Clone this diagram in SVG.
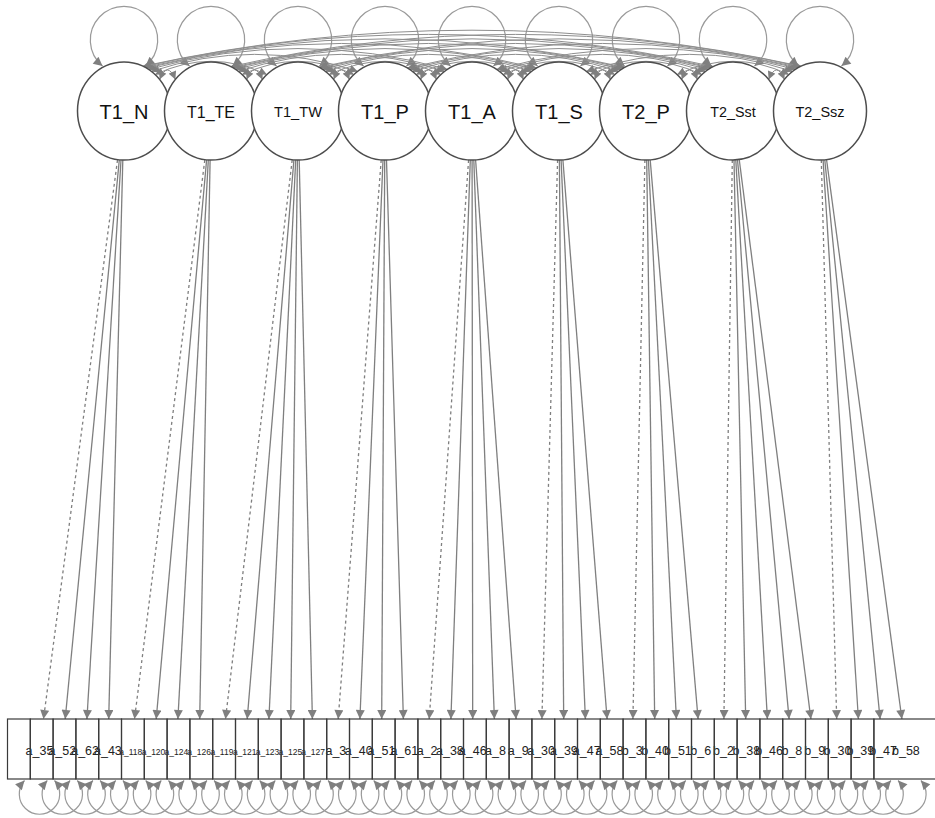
<svg xmlns="http://www.w3.org/2000/svg" width="935" height="818" viewBox="0 0 935 818">
<style>
.lat ellipse{fill:#fff;stroke:#4d4d4d;stroke-width:1.5}
.lat text{font-family:"Liberation Sans",Arial,sans-serif;fill:#111;text-anchor:middle}
.man rect{fill:none;stroke:#3a3a3a;stroke-width:1.2}
.man text{font-family:"Liberation Sans",Arial,sans-serif;fill:#222;text-anchor:middle;font-size:12.5px}
.man text.s{font-size:8.5px}
.e{fill:none;stroke:#7f7f7f;stroke-width:1.3;marker-end:url(#ah)}
.d{stroke-dasharray:3 3}
.lp{fill:none;stroke:#9a9a9a;stroke-width:1.2;marker-start:url(#ah);marker-end:url(#ah)}
.cv{fill:none;stroke:#8e8e8e;stroke-width:1;marker-start:url(#ac);marker-end:url(#ac)}
</style>
<defs>
<marker id="ah" viewBox="0 0 10 10" refX="10" refY="5" markerWidth="10" markerHeight="9" markerUnits="userSpaceOnUse" orient="auto-start-reverse"><path d="M0,0 L10,5 L0,10 z" fill="#7f7f7f"/></marker>
<marker id="ac" viewBox="0 0 10 10" refX="10" refY="5" markerWidth="9" markerHeight="8" markerUnits="userSpaceOnUse" orient="auto-start-reverse"><path d="M0,0 L10,5 L0,10 z" fill="#7f7f7f"/></marker>
</defs>
<rect x="0" y="0" width="935" height="818" fill="#fff"/>
<g id="connectors">
<path class="lp" d="M102.5,66 A33.7,33.7 0 1 1 145.5,66"/>
<path class="lp" d="M189.5,66 A33.7,33.7 0 1 1 232.5,66"/>
<path class="lp" d="M276.5,66 A33.7,33.7 0 1 1 319.5,66"/>
<path class="lp" d="M363.5,66 A33.7,33.7 0 1 1 406.5,66"/>
<path class="lp" d="M450.5,66 A33.7,33.7 0 1 1 493.5,66"/>
<path class="lp" d="M537.5,66 A33.7,33.7 0 1 1 580.5,66"/>
<path class="lp" d="M624.5,66 A33.7,33.7 0 1 1 667.5,66"/>
<path class="lp" d="M711.5,66 A33.7,33.7 0 1 1 754.5,66"/>
<path class="lp" d="M798.5,66 A33.7,33.7 0 1 1 841.5,66"/>
<path class="cv" d="M159.6,79.5 Q167.5,60.5 175.4,79.5"/>
<path class="cv" d="M246.6,79.5 Q254.5,60.5 262.4,79.5"/>
<path class="cv" d="M333.6,79.5 Q341.5,60.5 349.4,79.5"/>
<path class="cv" d="M420.6,79.5 Q428.5,60.5 436.4,79.5"/>
<path class="cv" d="M507.6,79.5 Q515.5,60.5 523.4,79.5"/>
<path class="cv" d="M594.6,79.5 Q602.5,60.5 610.4,79.5"/>
<path class="cv" d="M681.6,79.5 Q689.5,60.5 697.4,79.5"/>
<path class="cv" d="M768.6,79.5 Q776.5,60.5 784.4,79.5"/>
<path class="cv" d="M155.1,74.6 Q211,48 266.9,74.6"/>
<path class="cv" d="M242.1,74.6 Q298,48 353.9,74.6"/>
<path class="cv" d="M329.1,74.6 Q385,48 440.9,74.6"/>
<path class="cv" d="M416.1,74.6 Q472,48 527.9,74.6"/>
<path class="cv" d="M503.1,74.6 Q559,48 614.9,74.6"/>
<path class="cv" d="M590.1,74.6 Q646,48 701.9,74.6"/>
<path class="cv" d="M677.1,74.6 Q733,48 788.9,74.6"/>
<path class="cv" d="M151.3,71.4 Q254.5,37.3 357.7,71.4"/>
<path class="cv" d="M238.3,71.4 Q341.5,37.3 444.7,71.4"/>
<path class="cv" d="M325.3,71.4 Q428.5,37.3 531.7,71.4"/>
<path class="cv" d="M412.3,71.4 Q515.5,37.3 618.7,71.4"/>
<path class="cv" d="M499.3,71.4 Q602.5,37.3 705.7,71.4"/>
<path class="cv" d="M586.3,71.4 Q689.5,37.3 792.7,71.4"/>
<path class="cv" d="M148.6,69.4 Q298,27.7 447.4,69.4"/>
<path class="cv" d="M235.6,69.4 Q385,27.7 534.4,69.4"/>
<path class="cv" d="M322.6,69.4 Q472,27.7 621.4,69.4"/>
<path class="cv" d="M409.6,69.4 Q559,27.7 708.4,69.4"/>
<path class="cv" d="M496.6,69.4 Q646,27.7 795.4,69.4"/>
<path class="cv" d="M146.5,68.1 Q341.5,18.8 536.5,68.1"/>
<path class="cv" d="M233.5,68.1 Q428.5,18.8 623.5,68.1"/>
<path class="cv" d="M320.5,68.1 Q515.5,18.8 710.5,68.1"/>
<path class="cv" d="M407.5,68.1 Q602.5,18.8 797.5,68.1"/>
<path class="cv" d="M145.1,67.3 Q385,10.4 624.9,67.3"/>
<path class="cv" d="M232.1,67.3 Q472,10.4 711.9,67.3"/>
<path class="cv" d="M319.1,67.3 Q559,10.4 798.9,67.3"/>
<path class="cv" d="M143.7,66.6 Q428.5,2.2 713.3,66.6"/>
<path class="cv" d="M230.7,66.6 Q515.5,2.2 800.3,66.6"/>
<path class="cv" d="M142.9,66.2 Q472,-5.8 801.1,66.2"/>
<path class="e d" d="M117.5,160 L43.5,719"/>
<path class="e" d="M119.3,160 L65.2,719"/>
<path class="e" d="M121,160 L86.9,719"/>
<path class="e" d="M122.8,160 L108.7,719"/>
<path class="e d" d="M204.8,160 L134.5,719"/>
<path class="e" d="M206.6,160 L156.2,719"/>
<path class="e" d="M208.3,160 L177.9,719"/>
<path class="e" d="M210.1,160 L199.7,719"/>
<path class="e d" d="M292.2,160 L225.5,719"/>
<path class="e" d="M293.9,160 L247.2,719"/>
<path class="e" d="M295.7,160 L268.9,719"/>
<path class="e" d="M297.4,160 L290.7,719"/>
<path class="e" d="M299.2,160 L312.4,719"/>
<path class="e d" d="M381.2,160 L338.2,719"/>
<path class="e" d="M383,160 L359.9,719"/>
<path class="e" d="M384.7,160 L381.7,719"/>
<path class="e" d="M386.5,160 L403.4,719"/>
<path class="e d" d="M468.6,160 L429.2,719"/>
<path class="e" d="M470.3,160 L450.9,719"/>
<path class="e" d="M472.1,160 L472.7,719"/>
<path class="e" d="M473.8,160 L494.4,719"/>
<path class="e" d="M475.6,160 L516.1,719"/>
<path class="e d" d="M557.6,160 L541.9,719"/>
<path class="e" d="M559.4,160 L563.7,719"/>
<path class="e" d="M561.1,160 L585.4,719"/>
<path class="e" d="M562.9,160 L607.1,719"/>
<path class="e d" d="M644.9,160 L632.9,719"/>
<path class="e" d="M646.7,160 L654.7,719"/>
<path class="e" d="M648.4,160 L676.4,719"/>
<path class="e" d="M650.2,160 L698.1,719"/>
<path class="e d" d="M732.3,160 L723.9,719"/>
<path class="e" d="M734,160 L745.7,719"/>
<path class="e" d="M735.8,160 L767.4,719"/>
<path class="e" d="M737.5,160 L789.1,719"/>
<path class="e" d="M739.3,160 L810.9,719"/>
<path class="e d" d="M821.3,160 L836.7,719"/>
<path class="e" d="M823.1,160 L858.4,719"/>
<path class="e" d="M824.8,160 L880.1,719"/>
<path class="e" d="M826.6,160 L901.9,719"/>
<path class="lp" d="M24.5,780.5 A20.2,20.2 0 1 0 54.5,780.5"/>
<path class="lp" d="M47.3,780.5 A20.2,20.2 0 1 0 77.3,780.5"/>
<path class="lp" d="M70.1,780.5 A20.2,20.2 0 1 0 100.1,780.5"/>
<path class="lp" d="M92.9,780.5 A20.2,20.2 0 1 0 122.9,780.5"/>
<path class="lp" d="M115.7,780.5 A20.2,20.2 0 1 0 145.7,780.5"/>
<path class="lp" d="M138.5,780.5 A20.2,20.2 0 1 0 168.5,780.5"/>
<path class="lp" d="M161.3,780.5 A20.2,20.2 0 1 0 191.3,780.5"/>
<path class="lp" d="M184.1,780.5 A20.2,20.2 0 1 0 214.1,780.5"/>
<path class="lp" d="M206.9,780.5 A20.2,20.2 0 1 0 236.9,780.5"/>
<path class="lp" d="M229.7,780.5 A20.2,20.2 0 1 0 259.7,780.5"/>
<path class="lp" d="M252.5,780.5 A20.2,20.2 0 1 0 282.5,780.5"/>
<path class="lp" d="M275.3,780.5 A20.2,20.2 0 1 0 305.3,780.5"/>
<path class="lp" d="M298.1,780.5 A20.2,20.2 0 1 0 328.1,780.5"/>
<path class="lp" d="M320.9,780.5 A20.2,20.2 0 1 0 350.9,780.5"/>
<path class="lp" d="M343.7,780.5 A20.2,20.2 0 1 0 373.7,780.5"/>
<path class="lp" d="M366.5,780.5 A20.2,20.2 0 1 0 396.5,780.5"/>
<path class="lp" d="M389.3,780.5 A20.2,20.2 0 1 0 419.3,780.5"/>
<path class="lp" d="M412.1,780.5 A20.2,20.2 0 1 0 442.1,780.5"/>
<path class="lp" d="M434.9,780.5 A20.2,20.2 0 1 0 464.9,780.5"/>
<path class="lp" d="M457.7,780.5 A20.2,20.2 0 1 0 487.7,780.5"/>
<path class="lp" d="M480.5,780.5 A20.2,20.2 0 1 0 510.5,780.5"/>
<path class="lp" d="M503.3,780.5 A20.2,20.2 0 1 0 533.3,780.5"/>
<path class="lp" d="M526.1,780.5 A20.2,20.2 0 1 0 556.1,780.5"/>
<path class="lp" d="M548.9,780.5 A20.2,20.2 0 1 0 578.9,780.5"/>
<path class="lp" d="M571.7,780.5 A20.2,20.2 0 1 0 601.7,780.5"/>
<path class="lp" d="M594.5,780.5 A20.2,20.2 0 1 0 624.5,780.5"/>
<path class="lp" d="M617.3,780.5 A20.2,20.2 0 1 0 647.3,780.5"/>
<path class="lp" d="M640.1,780.5 A20.2,20.2 0 1 0 670.1,780.5"/>
<path class="lp" d="M662.9,780.5 A20.2,20.2 0 1 0 692.9,780.5"/>
<path class="lp" d="M685.7,780.5 A20.2,20.2 0 1 0 715.7,780.5"/>
<path class="lp" d="M708.5,780.5 A20.2,20.2 0 1 0 738.5,780.5"/>
<path class="lp" d="M731.3,780.5 A20.2,20.2 0 1 0 761.3,780.5"/>
<path class="lp" d="M754.1,780.5 A20.2,20.2 0 1 0 784.1,780.5"/>
<path class="lp" d="M776.9,780.5 A20.2,20.2 0 1 0 806.9,780.5"/>
<path class="lp" d="M799.7,780.5 A20.2,20.2 0 1 0 829.7,780.5"/>
<path class="lp" d="M822.5,780.5 A20.2,20.2 0 1 0 852.5,780.5"/>
<path class="lp" d="M845.3,780.5 A20.2,20.2 0 1 0 875.3,780.5"/>
<path class="lp" d="M868.1,780.5 A20.2,20.2 0 1 0 898.1,780.5"/>
<path class="lp" d="M890.9,780.5 A20.2,20.2 0 1 0 920.9,780.5"/>
</g>
<g id="latents">
<g id="T1_N" class="lat"><ellipse cx="124" cy="111" rx="46.5" ry="49"/><text x="124" y="118.7" font-size="20">T1_N</text></g>
<g id="T1_TE" class="lat"><ellipse cx="211" cy="111" rx="46.5" ry="49"/><text x="211" y="117.5" font-size="16">T1_TE</text></g>
<g id="T1_TW" class="lat"><ellipse cx="298" cy="111" rx="46.5" ry="49"/><text x="298" y="117" font-size="14.6">T1_TW</text></g>
<g id="T1_P" class="lat"><ellipse cx="385" cy="111" rx="46.5" ry="49"/><text x="385" y="118.7" font-size="20">T1_P</text></g>
<g id="T1_A" class="lat"><ellipse cx="472" cy="111" rx="46.5" ry="49"/><text x="472" y="118.7" font-size="20">T1_A</text></g>
<g id="T1_S" class="lat"><ellipse cx="559" cy="111" rx="46.5" ry="49"/><text x="559" y="118.7" font-size="20">T1_S</text></g>
<g id="T2_P" class="lat"><ellipse cx="646" cy="111" rx="46.5" ry="49"/><text x="646" y="118.7" font-size="20">T2_P</text></g>
<g id="T2_Sst" class="lat"><ellipse cx="733" cy="111" rx="46.5" ry="49"/><text x="733" y="116.8" font-size="14.3">T2_Sst</text></g>
<g id="T2_Ssz" class="lat"><ellipse cx="820" cy="111" rx="46.5" ry="49"/><text x="820" y="116.8" font-size="14.5">T2_Ssz</text></g>
</g>
<g id="manifests">
<g id="m_a_35" class="man"><rect x="7.5" y="719" width="22.8" height="60"/><text x="39.5" y="755">a_35</text></g>
<g id="m_a_52" class="man"><rect x="30.3" y="719" width="22.8" height="60"/><text x="62.3" y="755">a_52</text></g>
<g id="m_a_62" class="man"><rect x="53.1" y="719" width="22.8" height="60"/><text x="85.1" y="755">a_62</text></g>
<g id="m_a_43" class="man"><rect x="75.9" y="719" width="22.8" height="60"/><text x="107.9" y="755">a_43</text></g>
<g id="m_a_118" class="man"><rect x="98.7" y="719" width="22.8" height="60"/><text class="s" x="130.7" y="755">a_118</text></g>
<g id="m_a_120" class="man"><rect x="121.5" y="719" width="22.8" height="60"/><text class="s" x="153.5" y="755">a_120</text></g>
<g id="m_a_124" class="man"><rect x="144.3" y="719" width="22.8" height="60"/><text class="s" x="176.3" y="755">a_124</text></g>
<g id="m_a_126" class="man"><rect x="167.1" y="719" width="22.8" height="60"/><text class="s" x="199.1" y="755">a_126</text></g>
<g id="m_a_119" class="man"><rect x="189.9" y="719" width="22.8" height="60"/><text class="s" x="221.9" y="755">a_119</text></g>
<g id="m_a_121" class="man"><rect x="212.7" y="719" width="22.8" height="60"/><text class="s" x="244.7" y="755">a_121</text></g>
<g id="m_a_123" class="man"><rect x="235.5" y="719" width="22.8" height="60"/><text class="s" x="267.5" y="755">a_123</text></g>
<g id="m_a_125" class="man"><rect x="258.3" y="719" width="22.8" height="60"/><text class="s" x="290.3" y="755">a_125</text></g>
<g id="m_a_127" class="man"><rect x="281.1" y="719" width="22.8" height="60"/><text class="s" x="313.1" y="755">a_127</text></g>
<g id="m_a_3" class="man"><rect x="303.9" y="719" width="22.8" height="60"/><text x="335.9" y="755">a_3</text></g>
<g id="m_a_40" class="man"><rect x="326.7" y="719" width="22.8" height="60"/><text x="358.7" y="755">a_40</text></g>
<g id="m_a_51" class="man"><rect x="349.5" y="719" width="22.8" height="60"/><text x="381.5" y="755">a_51</text></g>
<g id="m_a_61" class="man"><rect x="372.3" y="719" width="22.8" height="60"/><text x="404.3" y="755">a_61</text></g>
<g id="m_a_2" class="man"><rect x="395.1" y="719" width="22.8" height="60"/><text x="427.1" y="755">a_2</text></g>
<g id="m_a_38" class="man"><rect x="417.9" y="719" width="22.8" height="60"/><text x="449.9" y="755">a_38</text></g>
<g id="m_a_46" class="man"><rect x="440.7" y="719" width="22.8" height="60"/><text x="472.7" y="755">a_46</text></g>
<g id="m_a_8" class="man"><rect x="463.5" y="719" width="22.8" height="60"/><text x="495.5" y="755">a_8</text></g>
<g id="m_a_9" class="man"><rect x="486.3" y="719" width="22.8" height="60"/><text x="518.3" y="755">a_9</text></g>
<g id="m_a_30" class="man"><rect x="509.1" y="719" width="22.8" height="60"/><text x="541.1" y="755">a_30</text></g>
<g id="m_a_39" class="man"><rect x="531.9" y="719" width="22.8" height="60"/><text x="563.9" y="755">a_39</text></g>
<g id="m_a_47" class="man"><rect x="554.7" y="719" width="22.8" height="60"/><text x="586.7" y="755">a_47</text></g>
<g id="m_a_58" class="man"><rect x="577.5" y="719" width="22.8" height="60"/><text x="609.5" y="755">a_58</text></g>
<g id="m_b_3" class="man"><rect x="600.3" y="719" width="22.8" height="60"/><text x="632.3" y="755">b_3</text></g>
<g id="m_b_40" class="man"><rect x="623.1" y="719" width="22.8" height="60"/><text x="655.1" y="755">b_40</text></g>
<g id="m_b_51" class="man"><rect x="645.9" y="719" width="22.8" height="60"/><text x="677.9" y="755">b_51</text></g>
<g id="m_b_6" class="man"><rect x="668.7" y="719" width="22.8" height="60"/><text x="700.7" y="755">b_6</text></g>
<g id="m_b_2" class="man"><rect x="691.5" y="719" width="22.8" height="60"/><text x="723.5" y="755">b_2</text></g>
<g id="m_b_38" class="man"><rect x="714.3" y="719" width="22.8" height="60"/><text x="746.3" y="755">b_38</text></g>
<g id="m_b_46" class="man"><rect x="737.1" y="719" width="22.8" height="60"/><text x="769.1" y="755">b_46</text></g>
<g id="m_b_8" class="man"><rect x="759.9" y="719" width="22.8" height="60"/><text x="791.9" y="755">b_8</text></g>
<g id="m_b_9" class="man"><rect x="782.7" y="719" width="22.8" height="60"/><text x="814.7" y="755">b_9</text></g>
<g id="m_b_30" class="man"><rect x="805.5" y="719" width="22.8" height="60"/><text x="837.5" y="755">b_30</text></g>
<g id="m_b_39" class="man"><rect x="828.3" y="719" width="22.8" height="60"/><text x="860.3" y="755">b_39</text></g>
<g id="m_b_47" class="man"><rect x="851.1" y="719" width="22.8" height="60"/><text x="883.1" y="755">b_47</text></g>
<g id="m_b_58" class="man"><rect x="873.9" y="719" width="64" height="60"/><text x="905.9" y="755">b_58</text></g>
</g>
</svg>
